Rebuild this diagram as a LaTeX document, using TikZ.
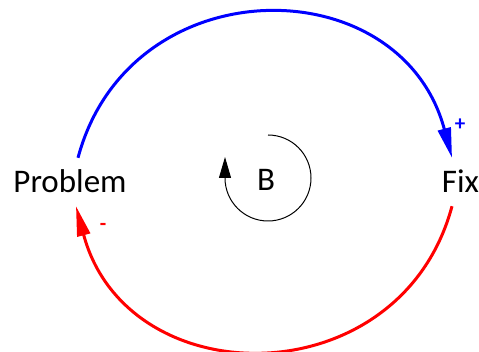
\documentclass[tikz,border=0pt]{standalone}
\usepackage{fontspec}
\setmainfont{Carlito}
\usepackage{tikz}
\usetikzlibrary{arrows.meta}

\begin{document}
\begin{tikzpicture}[
        x=1pt, y=1pt,
        lbl/.style={anchor=base, inner xsep=0pt, inner ysep=13pt, text height=22pt, text depth=0pt, font=\fontsize{33}{40}\selectfont},
        sign/.style={inner sep=0pt, font=\fontsize{21}{24}\selectfont\bfseries},
        posarc/.style={draw=blue, line width=3pt, -{Triangle[length=30pt, width=13pt]}},
        negarc/.style={draw=red, line width=3pt, -{Triangle[length=30pt, width=13pt]}},
        loopline/.style={draw=black, line width=1pt, -{Triangle[length=21pt, width=12pt]}}
    ]
    \useasboundingbox (0,0) rectangle (479,352);

    \node[lbl] (problem) at (70,159) {Problem};
    \node[lbl] (fix) at (460.5,159) {Fix};
    \node[lbl] (loopB) at (266,161) {B};

    \node[sign, text=blue] (plusSign) at (460,227) {+};
    \node[sign, text=red] (minusSign) at (103,125) {-};

    \draw[posarc] ([xshift=8]problem.north) to[out=75, in=105, looseness=1.36] ([xshift=-8.5]fix.north);
    \draw[negarc] ([xshift=-8.5]fix.south) to[out=-105, in=-75, looseness=1.35] ([xshift=6]problem.south);

    % balancing loop marker
    \draw[loopline] ([shift={(2,45)}]loopB.center) arc[start angle=90, end angle=-180, radius=43] -- ++(0,21);
\end{tikzpicture}
\end{document}
